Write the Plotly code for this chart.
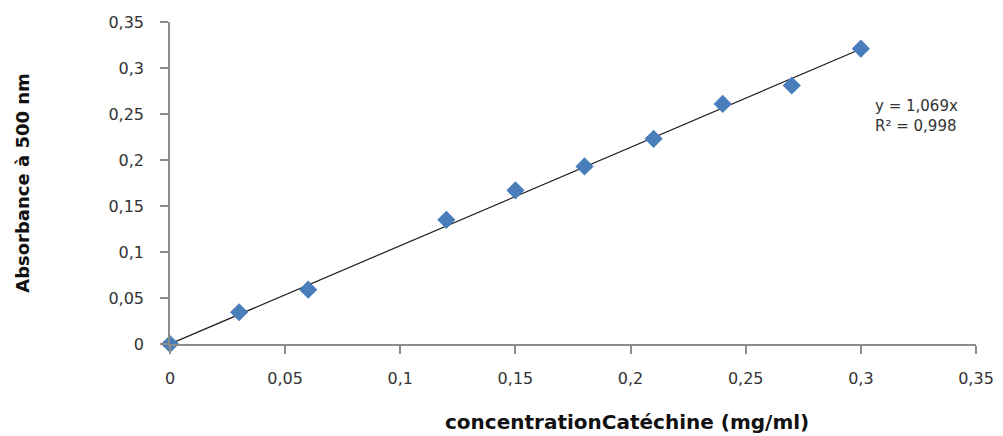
import plotly.graph_objects as go

concentration = [0, 0.03, 0.06, 0.12, 0.15, 0.18, 0.21, 0.24, 0.27, 0.30]
absorbance = [0, 0.0345, 0.059, 0.135, 0.167, 0.193, 0.223, 0.261, 0.281, 0.321]
slope = 1.069
r2 = 0.998
x_ticks = [0, 0.05, 0.1, 0.15, 0.2, 0.25, 0.3, 0.35]
x_tick_labels = ["0", "0,05", "0,1", "0,15", "0,2", "0,25", "0,3", "0,35"]
y_ticks = [0, 0.05, 0.1, 0.15, 0.2, 0.25, 0.3, 0.35]
y_tick_labels = ["0", "0,05", "0,1", "0,15", "0,2", "0,25", "0,3", "0,35"]

trend_x = [min(concentration), max(concentration)]
trend_y = [slope * v for v in trend_x]

fig = go.Figure()
fig.add_trace(go.Scatter(x=trend_x, y=trend_y, mode="lines",
                         line=dict(color="#1a1a1a", width=1.2),
                         hoverinfo="skip", showlegend=False, cliponaxis=False))
fig.add_trace(go.Scatter(x=concentration, y=absorbance, mode="markers",
                         marker=dict(symbol="diamond", size=14, color="#4A7EBB",
                                     line=dict(width=0)),
                         showlegend=False, cliponaxis=False))

tick_font = dict(family="DejaVu Sans", size=16, color="#333333")
axis_common = dict(showgrid=False, zeroline=False, showline=True,
                   linecolor="#8C8C8C", linewidth=1.5, ticks="outside",
                   tickcolor="#8C8C8C", tickwidth=1.5, ticklen=8,
                   tickfont=tick_font, automargin=False)

# the page body adds an 8px offset, so the figure is sized/positioned to compensate
fig.update_layout(
    width=995, height=428,
    margin=dict(l=162, r=27, t=14, b=92),
    paper_bgcolor="white", plot_bgcolor="white",
    xaxis=dict(range=[0, 0.35], tickvals=x_ticks, ticktext=x_tick_labels,
               ticklabelstandoff=11, **axis_common),
    yaxis=dict(range=[0, 0.35], tickvals=y_ticks, ticktext=y_tick_labels,
               ticklabelstandoff=13,
               title=dict(text="Absorbance à 500 nm",
                          font=dict(family="DejaVu Sans", size=18, color="#111111", weight="bold"),
                          standoff=74),
               **axis_common),
)

fig.add_annotation(x=0.567, y=-0.242, xref="paper", yref="paper",
                   xanchor="center", yanchor="middle", showarrow=False,
                   text="concentrationCatéchine (mg/ml)",
                   font=dict(family="DejaVu Sans", size=20, color="#111111", weight="bold"))

fig.add_annotation(x=0.3053, y=0.2475, xref="x", yref="y", xanchor="left", yanchor="middle",
                   text="y = 1,069x<br>R² = 0,998", showarrow=False, align="left",
                   font=dict(family="DejaVu Sans", size=15, color="#333333"))

fig.write_html("out.html")
